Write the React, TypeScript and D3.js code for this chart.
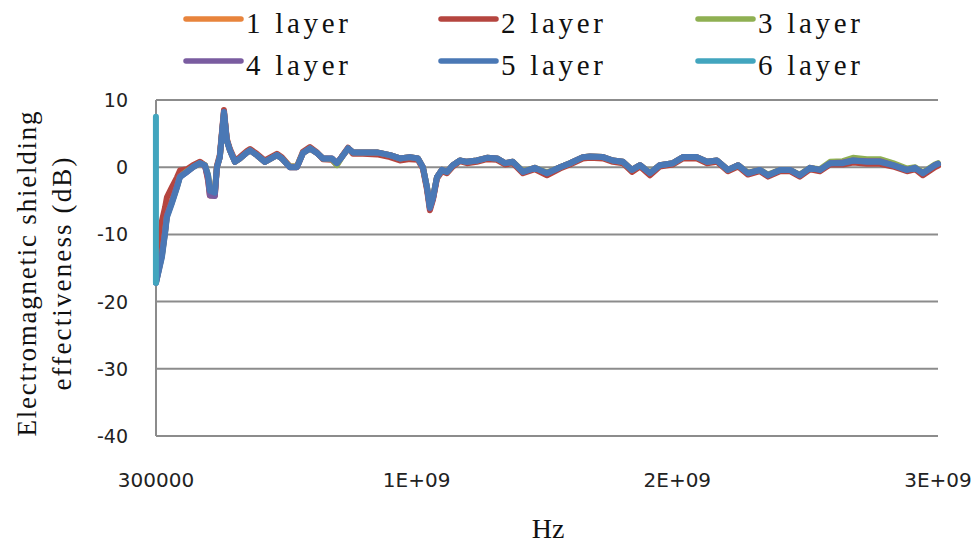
import React from "react";
import * as d3 from "d3";

// Sweep frequencies shared by layers 1–5 (Hz)
const freqHz = [
  0.3e6, 23e6, 35e6, 42e6, 61e6, 81e6, 92e6, 119e6, 142e6, 169e6,
  188e6, 200e6, 207e6, 226e6, 234e6, 245e6, 261e6, 272e6, 284e6, 303e6,
  322e6, 349e6, 361e6, 387e6, 418e6, 464e6, 483e6, 514e6, 541e6, 564e6,
  591e6, 618e6, 641e6, 675e6, 694e6, 713e6, 737e6, 756e6, 794e6, 848e6,
  898e6, 936e6, 974e6, 1005e6, 1024e6, 1040e6, 1051e6, 1063e6, 1078e6, 1097e6,
  1116e6, 1139e6, 1166e6, 1193e6, 1231e6, 1270e6, 1308e6, 1339e6, 1369e6, 1408e6,
  1454e6, 1500e6, 1550e6, 1588e6, 1638e6, 1665e6, 1715e6, 1753e6, 1791e6, 1826e6,
  1857e6, 1895e6, 1933e6, 1983e6, 2022e6, 2075e6, 2114e6, 2152e6, 2194e6, 2233e6,
  2271e6, 2317e6, 2348e6, 2394e6, 2432e6, 2470e6, 2509e6, 2547e6, 2586e6, 2635e6,
  2674e6, 2727e6, 2777e6, 2827e6, 2881e6, 2912e6, 2942e6, 2988e6, 3000e6,
];

// Shielding effectiveness (dB) per layer count
const layer1 = [
  -17.0, -12.8, -9.4, -7.0, -5.0, -2.7, -1.3, -0.6, 0.1, 0.6,
  0.3, -1.4, -3.7, -3.9, 0, 1.5, 8.1, 4.0, 2.5, 0.8,
  1.3, 2.2, 2.5, 1.8, 0.8, 1.8, 1.3, 0, 0, 2.1,
  2.8, 2.1, 1.3, 1.3, 0.6, 1.5, 2.8, 2.2, 2.2, 2.2,
  1.8, 1.3, 1.5, 1.3, 0, -3.1, -6.1, -4.6, -1.5, -0.4,
  -0.7, 0.3, 1.0, 0.8, 1.0, 1.4, 1.3, 0.6, 0.8, -0.7,
  -0.1, -0.9, 0, 0.6, 1.5, 1.6, 1.5, 1.0, 0.8, -0.4,
  0.3, -0.9, 0.3, 0.6, 1.5, 1.5, 0.8, 1.0, -0.4, 0.3,
  -0.9, -0.4, -1.2, -0.4, -0.4, -1.2, -0.1, -0.4, 0.6, 0.7,
  1.1, 0.9, 0.9, 0.3, -0.4, -0.1, -0.9, 0.3, 0.5,
];
const layer2 = [
  -16.0, -8.0, -6.0, -4.5, -3.0, -1.5, -0.5, -0.3, 0.3, 0.8,
  0.3, -2.0, -4.2, -4.2, 0.2, 1.8, 8.5, 4.2, 2.7, 1.0,
  1.5, 2.4, 2.7, 2.0, 1.0, 2.0, 1.5, 0.1, 0.1, 2.3,
  3.0, 2.2, 1.2, 1.1, 0.4, 1.6, 2.9, 2.0, 2.0, 1.9,
  1.5, 1.0, 1.2, 1.1, -0.2, -3.4, -6.4, -4.8, -1.7, -0.6,
  -0.9, 0.1, 0.9, 0.6, 0.8, 1.2, 1.1, 0.4, 0.6, -0.9,
  -0.3, -1.2, -0.2, 0.4, 1.3, 1.4, 1.3, 0.8, 0.6, -0.7,
  0.1, -1.2, 0.1, 0.4, 1.3, 1.3, 0.6, 0.8, -0.6, 0.1,
  -1.1, -0.6, -1.4, -0.6, -0.6, -1.4, -0.3, -0.6, 0.4, 0.4,
  0.7, 0.5, 0.5, 0.1, -0.6, -0.3, -1.2, 0, 0.2,
];
const layer3 = [
  -17.1, -13.2, -9.7, -7.3, -5.2, -2.9, -1.4, -0.6, 0, 0.6,
  0.3, -1.2, -3.4, -3.6, 0, 1.5, 8.0, 4.0, 2.5, 0.8,
  1.3, 2.2, 2.5, 1.8, 0.8, 1.8, 1.3, 0.1, 0.1, 2.1,
  2.8, 2.1, 1.3, 1.2, 0.3, 1.5, 2.8, 2.2, 2.2, 2.2,
  1.8, 1.3, 1.5, 1.3, 0, -3.0, -5.9, -4.4, -1.5, -0.4,
  -0.7, 0.3, 1.0, 0.8, 1.0, 1.4, 1.3, 0.6, 0.8, -0.6,
  -0.1, -0.8, 0, 0.6, 1.5, 1.6, 1.5, 1.0, 0.8, -0.4,
  0.3, -0.8, 0.3, 0.6, 1.5, 1.5, 0.8, 1.0, -0.4, 0.3,
  -0.8, -0.4, -1.1, -0.4, -0.4, -1.1, -0.1, -0.3, 0.8, 0.9,
  1.4, 1.2, 1.2, 0.6, -0.2, 0, -0.8, 0.4, 0.6,
];
const layer4 = [
  -17.2, -13.0, -9.6, -7.2, -5.2, -2.8, -1.4, -0.7, 0, 0.6,
  0.2, -1.6, -4.2, -4.3, 0, 1.5, 8.2, 4.0, 2.5, 0.8,
  1.3, 2.2, 2.5, 1.8, 0.8, 1.8, 1.3, 0, 0, 2.1,
  2.8, 2.1, 1.3, 1.3, 0.6, 1.5, 2.8, 2.2, 2.2, 2.2,
  1.8, 1.3, 1.5, 1.3, 0, -3.1, -6.1, -4.6, -1.5, -0.4,
  -0.7, 0.3, 1.0, 0.8, 1.0, 1.4, 1.3, 0.6, 0.8, -0.7,
  -0.1, -0.9, 0, 0.6, 1.5, 1.6, 1.5, 1.0, 0.8, -0.4,
  0.3, -0.9, 0.3, 0.6, 1.5, 1.5, 0.8, 1.0, -0.4, 0.3,
  -0.9, -0.4, -1.2, -0.4, -0.4, -1.2, -0.1, -0.4, 0.6, 0.7,
  1.0, 0.9, 0.9, 0.3, -0.4, -0.1, -0.9, 0.3, 0.5,
];
const layer5 = [
  -17.2, -13.4, -9.9, -7.5, -5.4, -3.0, -1.5, -0.7, 0, 0.6,
  0.3, -1.2, -3.5, -3.8, 0, 1.5, 8.2, 4.0, 2.5, 0.8,
  1.3, 2.2, 2.5, 1.8, 0.8, 1.8, 1.3, 0, 0, 2.1,
  2.8, 2.1, 1.3, 1.3, 0.6, 1.5, 2.8, 2.2, 2.2, 2.2,
  1.8, 1.3, 1.5, 1.3, 0, -3.0, -6.0, -4.5, -1.5, -0.4,
  -0.7, 0.3, 1.0, 0.8, 1.0, 1.4, 1.3, 0.6, 0.8, -0.7,
  -0.1, -0.9, 0, 0.6, 1.5, 1.6, 1.5, 1.0, 0.8, -0.4,
  0.3, -0.9, 0.3, 0.6, 1.5, 1.5, 0.8, 1.0, -0.4, 0.3,
  -0.9, -0.4, -1.2, -0.4, -0.4, -1.2, -0.1, -0.4, 0.6, 0.6,
  1.0, 0.8, 0.8, 0.3, -0.4, -0.1, -0.9, 0.3, 0.5,
];

// The 6-layer sweep was logged with its frequency column in MHz
const layer6Freq = [0.3, 23, 42, 92, 142, 207, 261, 303, 591, 1051, 1500, 3000];
const layer6 = [-17.2, -13.4, -7.5, -1.5, 0, -3.8, 7.5, 0.8, 2.8, -6.0, -0.9, 0.5];

const seriesNames = ["1 layer", "2 layer", "3 layer", "4 layer", "5 layer", "6 layer"];
const seriesColors = ["#E8843C", "#B5453F", "#8FB052", "#7A5CA0", "#4A78B5", "#42A5BE"];

const yTicks = [10, 0, -10, -20, -30, -40];
const xTicks = [3e5, 1e9, 2e9, 3e9];
const xTickLabels = ["300000", "1E+09", "2E+09", "3E+09"];

const W = 973;
const H = 551;
const plot = { left: 156, right: 938, top: 100, bottom: 436 };

export default function App() {
  const x = d3.scaleLinear().domain([3e5, 3e9]).range([plot.left, plot.right]);
  const y = d3.scaleLinear().domain([-40, 10]).range([plot.bottom, plot.top]);

  const valueSets = [layer1, layer2, layer3, layer4, layer5];
  const series = valueSets.map((vals, i) => ({
    name: seriesNames[i],
    color: seriesColors[i],
    points: vals.map((v, j) => [freqHz[j], v] as [number, number]),
  }));
  series.push({
    name: seriesNames[5],
    color: seriesColors[5],
    points: layer6.map((v, j) => [layer6Freq[j], v] as [number, number]),
  });

  const line = d3
    .line<[number, number]>()
    .x((d) => x(d[0]))
    .y((d) => y(d[1]));

  const serif = "'Liberation Serif', 'DejaVu Serif', serif";
  const sans = "'DejaVu Sans', sans-serif";
  const gridColor = "#8c8c8c";

  const legendCols = [186, 441, 698];
  const legendRows = [19, 61];
  const legendTextLen = 102;

  const yTitleCy = 274;

  return (
    <svg
      width={W}
      height={H}
      viewBox={`0 0 ${W} ${H}`}
      style={{ position: "absolute", left: 0, top: 0, background: "#fff" }}
    >
      <rect width={W} height={H} fill="#fff" />

      {/* horizontal gridlines */}
      {yTicks
        .filter((t) => t !== -40)
        .map((t) => (
          <line
            key={`g${t}`}
            x1={plot.left}
            x2={plot.right}
            y1={y(t)}
            y2={y(t)}
            stroke={gridColor}
            strokeWidth={2}
          />
        ))}

      {/* axes */}
      <line x1={plot.left} x2={plot.left} y1={plot.top} y2={plot.bottom} stroke={gridColor} strokeWidth={2} />
      <line x1={plot.left} x2={plot.right} y1={plot.bottom} y2={plot.bottom} stroke={gridColor} strokeWidth={2} />

      {/* y tick labels */}
      {yTicks.map((t) => (
        <text
          key={`yt${t}`}
          x={128}
          y={y(t)}
          textAnchor="end"
          dominantBaseline="central"
          fontFamily={sans}
          fontSize={19}
          fill="#222"
        >
          {t}
        </text>
      ))}

      {/* x tick labels */}
      {xTicks.map((t, i) => (
        <text
          key={`xt${i}`}
          x={x(t)}
          y={480}
          textAnchor="middle"
          dominantBaseline="central"
          fontFamily={sans}
          fontSize={20}
          fill="#222"
        >
          {xTickLabels[i]}
        </text>
      ))}

      {/* data lines */}
      <g fill="none" strokeLinejoin="round" strokeLinecap="round">
        {series.map((s) => (
          <path key={s.name} d={line(s.points) || ""} stroke={s.color} strokeWidth={6} />
        ))}
      </g>

      {/* axis titles */}
      <text
        x={548}
        y={528}
        textAnchor="middle"
        dominantBaseline="central"
        fontFamily={serif}
        fontSize={28}
        fill="#111"
      >
        Hz
      </text>
      <g transform={`translate(27, ${yTitleCy}) rotate(-90)`}>
        <text
          x={0}
          y={0}
          textAnchor="middle"
          dominantBaseline="central"
          fontFamily={serif}
          fontSize={27}
          fill="#111"
          textLength={325}
          lengthAdjust="spacing"
        >
          Electromagnetic shielding
        </text>
      </g>
      <g transform={`translate(62, ${yTitleCy}) rotate(-90)`}>
        <text
          x={0}
          y={0}
          textAnchor="middle"
          dominantBaseline="central"
          fontFamily={serif}
          fontSize={27}
          fill="#111"
          textLength={233}
          lengthAdjust="spacing"
        >
          effectiveness (dB)
        </text>
      </g>

      {/* legend */}
      {series.map((s, i) => {
        const cx = legendCols[i % 3];
        const cy = legendRows[Math.floor(i / 3)];
        return (
          <g key={`lg${i}`}>
            <line
              x1={cx}
              x2={cx + 55}
              y1={cy}
              y2={cy}
              stroke={s.color}
              strokeWidth={5.5}
              strokeLinecap="round"
            />
            <text
              x={cx + 60}
              y={cy + 14}
              fontFamily={serif}
              fontSize={29}
              fill="#111"
              textLength={legendTextLen}
              lengthAdjust="spacing"
            >
              {s.name}
            </text>
          </g>
        );
      })}
    </svg>
  );
}
